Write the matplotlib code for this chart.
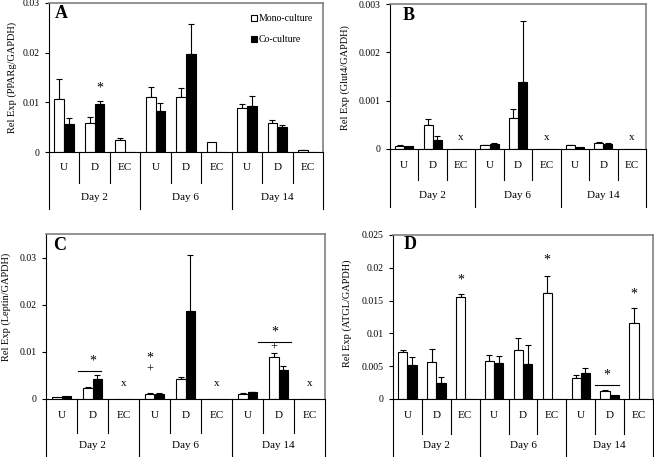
import numpy as np
import matplotlib
matplotlib.use("Agg")
import matplotlib.pyplot as plt
from matplotlib.lines import Line2D

plt.rcParams['font.family'] = ['Liberation Serif', 'DejaVu Serif']

# ---------------- DATA ----------------
days = ["Day 2", "Day 6", "Day 14"]
conds = ["U", "D", "EC"]
nan = np.nan

# A : PPARg
a_mono = [0.0107, 0.0058, 0.0025, 0.0111, 0.0110, 0.0020, 0.0089, 0.0059, 0.0004]
a_mono_err = [0.0040, 0.0012, 0.0004, 0.0019, 0.0018, 0.0, 0.0008, 0.0006, 0.0001]
a_co = [0.0057, 0.0096, nan, 0.0082, 0.0198, nan, 0.0093, 0.0050, nan]
a_co_err = [0.0012, 0.0007, nan, 0.0017, 0.0060, nan, 0.0020, 0.0005, nan]
a_ticks = [0, 0.01, 0.02, 0.03]
a_ticklabels = ["0", "0.01", "0.02", "0.03"]

# B : Glut4
b_mono = [0.00007, 0.00050, 0.0, 0.00008, 0.00064, 0.0, 0.00008, 0.00013, 0.0]
b_mono_err = [0.00001, 0.00012, 0.0, 0.00001, 0.00019, 0.0, 0.00001, 0.00001, 0.0]
b_co = [0.00007, 0.00019, nan, 0.00011, 0.00138, nan, 0.00005, 0.00011, nan]
b_co_err = [0.0, 0.00007, nan, 0.00001, 0.00126, nan, 0.0, 0.00001, nan]
b_ticks = [0, 0.001, 0.002, 0.003]
b_ticklabels = ["0", "0.001", "0.002", "0.003"]

# C : Leptin
c_mono = [0.0004, 0.0023, 0.0, 0.0011, 0.0043, 0.0, 0.0011, 0.0089, 0.0]
c_mono_err = [0.0, 0.0002, 0.0, 0.0001, 0.0004, 0.0, 0.0001, 0.0009, 0.0]
c_co = [0.0006, 0.0043, nan, 0.0011, 0.0187, nan, 0.0014, 0.0062, nan]
c_co_err = [0.0, 0.0008, nan, 0.0001, 0.0119, nan, 0.0001, 0.0009, nan]
c_ticks = [0, 0.01, 0.02, 0.03]
c_ticklabels = ["0", "0.01", "0.02", "0.03"]

# D : ATGL
d_mono = [0.0071, 0.0057, 0.0156, 0.0058, 0.0075, 0.0162, 0.0032, 0.0012, 0.0116]
d_mono_err = [0.0004, 0.0019, 0.0004, 0.0009, 0.0018, 0.0026, 0.0005, 0.0001, 0.0022]
d_co = [0.0052, 0.0024, nan, 0.0055, 0.0054, nan, 0.0039, 0.0006, nan]
d_co_err = [0.0012, 0.0009, nan, 0.0011, 0.0029, nan, 0.0008, 0.0, nan]
d_ticks = [0, 0.005, 0.01, 0.015, 0.02, 0.025]
d_ticklabels = ["0", "0.005", "0.01", "0.015", "0.02", "0.025"]

# ---------------- LAYOUT (pixels) ----------------
W, H = 654, 457
BAR_W = 0.32


def make_panel(fig, box, mono, mono_err, co, co_err, ymax, ticks, ticklabels,
               ylabel, letter, row1, row2, lab_xy, letter_xy):
    left, right, top, bottom = box
    hpx = bottom - top
    ax = fig.add_axes([left / W, (H - bottom) / H, (right - left) / W, hpx / H])
    x = np.arange(9) + 0.5
    mono = np.array(mono, dtype=float)
    co = np.array(co, dtype=float)
    ax.bar(x - BAR_W / 2, mono, BAR_W, color="white", edgecolor="black", linewidth=0.8, zorder=2)
    ax.bar(x + BAR_W / 2, np.nan_to_num(co), BAR_W, color="black", edgecolor="black", linewidth=0.8, zorder=2)

    me = np.array(mono_err, dtype=float)
    ce = np.array(co_err, dtype=float)
    m_ok = me > 0
    ax.errorbar((x - BAR_W / 2)[m_ok], mono[m_ok], yerr=[np.zeros(m_ok.sum()), me[m_ok]],
                fmt="none", ecolor="black", elinewidth=0.8, capsize=2.5, capthick=0.8, zorder=1)
    c_ok = np.nan_to_num(ce) > 0
    ax.errorbar((x + BAR_W / 2)[c_ok], co[c_ok], yerr=[np.zeros(c_ok.sum()), ce[c_ok]],
                fmt="none", ecolor="black", elinewidth=0.8, capsize=2.5, capthick=0.8, zorder=1)

    ax.set_xlim(0, 9)
    ax.set_ylim(0, ymax)
    ax.set_xticks([])
    ax.set_yticks(ticks)
    ax.set_yticklabels(ticklabels)
    ax.tick_params(axis="y", direction="out", length=3, width=0.8, labelsize=7, pad=4)
    for s in ["top", "right"]:
        ax.spines[s].set_color("#808080")
        ax.spines[s].set_linewidth(1.2)
    ax.spines["left"].set_linewidth(0.8)
    ax.spines["bottom"].set_linewidth(0.8)

    ax.set_ylabel(ylabel, fontsize=7.5)
    ax.yaxis.set_label_coords(*lab_xy)
    ax.text(letter_xy[0], letter_xy[1], letter, transform=ax.transAxes,
            fontsize=13, fontweight="bold", va="center", ha="left")

    # multi-level category axis
    tr = ax.get_xaxis_transform()
    r1 = -row1 / hpx
    r2 = -row2 / hpx
    for i in range(10):
        yb = r2 if i % 3 == 0 else r1
        ax.plot([i, i], [0, yb], transform=tr, color="black", lw=0.8, clip_on=False)
    for i in range(9):
        ax.text(i + 0.5, -16 / hpx, conds[i % 3], transform=tr, ha="center", va="center", fontsize=8)
    for j, d in enumerate(days):
        ax.text(3 * j + 1.5, -46 / hpx, d, transform=tr, ha="center", va="center", fontsize=8)
    return ax


fig = plt.figure(figsize=(W / 100, H / 100), dpi=100)

axA = make_panel(fig, (49, 323, 3, 152), a_mono, a_mono_err, a_co, a_co_err, 0.03,
                 a_ticks, a_ticklabels, "Rel Exp (PPARg/GAPDH)", "A", 31, 57,
                 (-0.117, 0.5), (0.02, 0.93))
axB = make_panel(fig, (390, 646, 4, 149), b_mono, b_mono_err, b_co, b_co_err, 0.003,
                 b_ticks, b_ticklabels, "Rel Exp (Glut4/GAPDH)", "B", 31, 58,
                 (-0.156, 0.49), (0.05, 0.92))
axC = make_panel(fig, (46, 325, 234, 399), c_mono, c_mono_err, c_co, c_co_err, 0.035,
                 c_ticks, c_ticklabels, "Rel Exp (Leptin/GAPDH)", "C", 34, 60,
                 (-0.125, 0.56), (0.025, 0.93))
axD = make_panel(fig, (393, 653, 235, 399), d_mono, d_mono_err, d_co, d_co_err, 0.025,
                 d_ticks, d_ticklabels, "Rel Exp (ATGL/GAPDH)", "D", 35, 60,
                 (-0.158, 0.52), (0.04, 0.94))

# legend in A
handles = [Line2D([], [], ls="none", marker="s", ms=5, mfc="white", mec="black", mew=0.8),
           Line2D([], [], ls="none", marker="s", ms=5, mfc="black", mec="black", mew=0.8)]
axA.legend(handles, ["Mono-culture", "Co-culture"], loc="upper left",
           bbox_to_anchor=(0.725, 0.95), frameon=False, fontsize=7,
           handlelength=0.6, handletextpad=0.1, labelspacing=1.2, borderaxespad=0)

# significance marks
star = dict(ha="center", va="center", fontsize=10)
axA.text(1.66, 0.0128, "*", **star)

for ax, pos in [(axB, 0.00023), (axC, 0.0033)]:
    for i in (2, 5, 8):
        ax.text(i + 0.5, pos, "x", ha="center", va="center", fontsize=8)

axC.plot([1.03, 1.77], [0.0059, 0.0059], color="black", lw=0.8)
axC.text(1.5, 0.0080, "*", **star)
axC.text(3.34, 0.0062, "+", ha="center", va="center", fontsize=9)
axC.text(3.34, 0.0087, "*", **star)
axC.plot([6.84, 7.9], [0.0121, 0.0121], color="black", lw=0.8)
axC.text(7.37, 0.0143, "*", **star)
axC.text(7.34, 0.0108, "+", ha="center", va="center", fontsize=9)

axD.text(2.34, 0.0182, "*", **star)
axD.text(5.34, 0.0212, "*", **star)
axD.text(8.34, 0.0160, "*", **star)
axD.plot([6.99, 7.82], [0.0021, 0.0021], color="black", lw=0.8)
axD.text(7.4, 0.0036, "*", **star)

fig.savefig("out.png", dpi=100)
